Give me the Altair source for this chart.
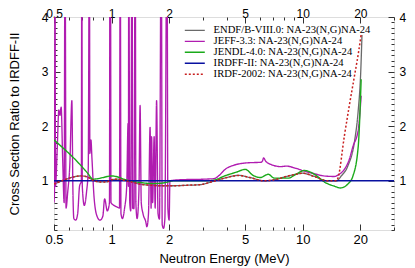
import altair as alt
import pandas as pd

# ---------------- data ----------------
series_names = [
    "ENDF/B-VIII.0: NA-23(N,G)NA-24",
    "JEFF-3.3: NA-23(N,G)NA-24",
    "JENDL-4.0: NA-23(N,G)NA-24",
    "IRDFF-II: NA-23(N,G)NA-24",
    "IRDF-2002: NA-23(N,G)NA-24",
]
series_colors = ["#6a6a6a", "#b01cb0", "#1aaa1a", "#0810a0", "#c81e1e"]
series_dash = [[1, 0], [1, 0], [1, 0], [1, 0], [2, 2]]
series_width = [1.3, 1.5, 1.4, 3.0, 1.5]

endf_x = [0.5, 0.55, 0.6, 0.65, 0.7, 0.75, 0.8, 0.87, 0.94, 1.0, 1.08, 1.16, 1.3, 1.41,
          1.6, 1.8, 2.1, 2.5, 2.9, 3.4, 4.0, 4.6, 5.3, 6.3, 7.3, 8.4, 9.2, 10.0, 11.5,
          13.5, 15.0, 15.9, 17.2, 18.7, 19.5, 20.1, 20.4]
endf_y = [0.94, 1.0, 1.05, 1.08, 1.09, 1.07, 1.01, 0.98, 0.98, 1.02, 1.03, 1.01, 0.97, 0.94,
          0.92, 0.91, 0.91, 0.92, 0.93, 0.99, 1.06, 1.10, 1.06, 1.0, 1.03, 1.09, 1.12, 1.14, 1.08,
          1.0, 1.0, 1.09, 1.27, 1.75, 2.29, 3.0, 3.67]

jeff_x = [0.5, 0.503, 0.506, 0.509, 0.52, 0.53, 0.537, 0.545, 0.555, 0.565, 0.571, 0.578,
          0.59, 0.605, 0.62, 0.628, 0.635, 0.65, 0.665, 0.68, 0.695, 0.699, 0.703, 0.72,
          0.74, 0.755, 0.766, 0.77, 0.78, 0.79, 0.81, 0.84, 0.87, 0.9, 0.92, 0.95, 0.975,
          0.981, 0.987, 0.993, 1.03, 1.07, 1.10, 1.11, 1.12, 1.14, 1.17, 1.2, 1.22, 1.225,
          1.23, 1.245, 1.26, 1.28, 1.29, 1.31, 1.33, 1.34, 1.36, 1.39, 1.41, 1.43, 1.46,
          1.51, 1.53, 1.56, 1.59, 1.61, 1.62, 1.64, 1.67, 1.69, 1.72, 1.75, 1.78, 1.82,
          1.84, 1.87, 1.9, 1.95, 1.97, 2.0, 2.02, 2.3, 3.0, 3.42, 4.04, 4.5, 5.14, 6.04,
          6.15, 6.24, 6.4, 6.82, 7.69, 8.2, 9.0, 10.16, 11.5, 12.9, 14.6, 15.5, 16.5,
          17.5, 18.3, 19.5, 20.2]
jeff_y = [0.6, 0.8, 6.0, 0.9, 1.6, 2.3, 2.2, 2.35, 1.4, 0.6, 6.0, 0.5,
          0.8, 1.3, 2.47, 0.8, 0.31, 0.28, 0.4, 0.9, 1.0, 6.0, 0.9, 0.55,
          0.8, 1.2, 6.0, 1.5, 1.75, 1.4, 0.7, 0.35, 0.28, 0.35, 0.67, 0.45, 0.6,
          6.0, 6.0, 0.6, 0.55, 0.52, 0.5, 6.0, 0.4, 0.31, 0.5, 0.9, 2.05, 0.9,
          6.0, 0.6, 0.45, 6.0, 0.5, 0.49, 6.0, 0.6, 0.31, 0.8, 2.38, 0.6, 0.4,
          0.25, 0.16, 0.4, 1.98, 0.5, 1.81, 0.6, 1.81, 0.5, 2.47, 0.4, 0.3, 6.0,
          0.2, 0.13, 0.3, 6.0, 0.5, 0.28, 1.0, 1.02, 1.03, 1.04, 1.24, 1.3, 1.33, 1.34,
          1.36, 1.42, 1.36, 1.30, 1.26, 1.27, 1.24, 1.18, 1.13, 1.09, 1.08, 1.12, 1.21,
          1.39, 1.63, 1.93, 2.56]

jendl_x = [0.5, 0.55, 0.6, 0.65, 0.7, 0.75, 0.8, 0.85, 0.9, 1.0, 1.08, 1.16, 1.3, 1.41,
           1.65, 1.85, 2.12, 2.5, 3.0, 3.4, 3.9, 4.5, 5.0, 5.5, 6.0, 6.6, 7.1, 8.4, 9.2,
           10.2, 11.5, 13.1, 14.7, 15.7, 16.5, 17.2, 18.3, 19.5, 20.2]
jendl_y = [1.75, 1.62, 1.50, 1.38, 1.26, 1.14, 1.03, 1.04, 1.06, 1.09, 1.07, 1.03, 0.99, 0.97,
           0.95, 0.96, 1.0, 1.0, 1.0, 1.01, 1.09, 1.16, 1.21, 1.10, 1.06, 1.12, 1.05, 1.05, 1.12,
           1.19, 1.12, 0.97, 0.90, 0.87, 0.89, 0.94, 1.09, 1.63, 2.86]

irdff_x = [0.5, 30.0]
irdff_y = [1.0, 1.0]

irdf_x = [0.5, 0.55, 0.6, 0.65, 0.7, 0.75, 0.8, 0.87, 0.94, 1.0, 1.08, 1.16, 1.3, 1.41,
          1.6, 1.8, 2.1, 2.5, 2.9, 3.4, 4.0, 4.6, 5.3, 6.3, 7.3, 8.4, 9.2, 10.0, 11.5,
          13.5, 15.0, 15.3, 16.5, 17.5, 18.7, 19.5, 20.2]
irdf_y = [0.94, 1.0, 1.05, 1.08, 1.09, 1.07, 1.01, 0.98, 0.98, 1.02, 1.03, 1.01, 0.97, 0.94,
          0.92, 0.91, 0.91, 0.92, 0.93, 0.99, 1.06, 1.10, 1.06, 1.0, 1.03, 1.09, 1.12, 1.14, 1.08,
          1.0, 1.0, 1.06, 1.82, 2.37, 2.95, 3.32, 3.68]

x_major = [0.5, 1, 2, 5, 10, 20]
x_minor = [0.6, 0.7, 0.8, 0.9, 3, 4, 6, 7, 8, 9, 30]
y_major = [1, 2, 3, 4]
y_minor = [round(v / 10, 1) for v in range(1, 41) if v % 10 != 0]

# ---------------- build table ----------------
rows = []
for name, xs, ys in zip(series_names,
                        [endf_x, jeff_x, jendl_x, irdff_x, irdf_x],
                        [endf_y, jeff_y, jendl_y, irdff_y, irdf_y]):
    for xv, yv in zip(xs, ys):
        rows.append({"series": name, "energy": xv, "ratio": yv})
df = pd.DataFrame(rows)
pt = pd.DataFrame({"energy": [1.0], "ratio": [1.0]})

W, H = 340, 213
SANS = "Liberation Sans"
xs = alt.Scale(type="log", domain=[0.5, 30], nice=False)
ys = alt.Scale(type="linear", domain=[0.1, 4], nice=False, zero=False)

legend = alt.Legend(
    title=None, orient="none", legendX=135.5, legendY=8,
    symbolType="M-4,0H4", symbolSize=25, labelOffset=13.5,
    labelFont="Liberation Serif", labelFontSize=10.6, labelColor="black",
    rowPadding=0, padding=0, fillColor="transparent", strokeColor="transparent",
)

main = alt.Chart(df).mark_line(clip=True, interpolate="monotone").encode(
    x=alt.X("energy:Q", scale=xs, axis=alt.Axis(
        orient="bottom", values=x_major, format="~g", ticks=False, tickSize=0,
        domain=False, grid=False, labelFont=SANS, labelFontSize=13, labelPadding=3,
        labelFlush=False, labelOverlap=False,
        labelColor="black", title="Neutron Energy (MeV)", titleFont=SANS,
        titleFontSize=13, titleFontWeight="normal", titleColor="black",
        titleX=W / 2, titleY=32.7, titleBaseline="alphabetic")),
    y=alt.Y("ratio:Q", scale=ys, axis=alt.Axis(
        orient="left", values=y_major, format="d", ticks=False, tickSize=0,
        domain=False, grid=False, labelFont=SANS, labelFontSize=12, labelPadding=6,
        labelFlush=False, labelOverlap=False,
        labelColor="black", title="Cross Section Ratio to IRDFF-II", titleFont=SANS,
        titleFontSize=13, titleFontWeight="normal", titleColor="black",
        titleX=-35.5, titleY=H / 2, titleAngle=270, titleAlign="center",
        titleBaseline="alphabetic")),
    color=alt.Color("series:N", scale=alt.Scale(domain=series_names, range=series_colors),
                    legend=legend),
    strokeDash=alt.StrokeDash("series:N", scale=alt.Scale(domain=series_names, range=series_dash),
                              legend=legend),
    strokeWidth=alt.StrokeWidth("series:N", scale=alt.Scale(domain=series_names, range=series_width),
                                legend=legend),
)

# top and right labels
labels2 = alt.Chart(pt).mark_point(opacity=0).encode(
    x=alt.X("energy:Q", scale=xs, axis=alt.Axis(
        orient="top", values=x_major, format="~g", ticks=False, tickSize=0, domain=False,
        grid=False, labelFont=SANS, labelFontSize=12, labelPadding=0,
        labelBaseline="alphabetic", labelFlush=False, labelOverlap=False,
        labelColor="black", title=None)),
    y=alt.Y("ratio:Q", scale=ys, axis=alt.Axis(
        orient="right", values=y_major, format="d", ticks=False, tickSize=0, domain=False,
        grid=False, labelFont=SANS, labelFontSize=12, labelPadding=5, labelColor="black",
        labelFlush=False, labelOverlap=False, title=None)),
)


def tick_layer(xvals, yvals, size, xo, yo):
    return alt.Chart(pt).mark_point(opacity=0).encode(
        x=alt.X("energy:Q", scale=xs, axis=alt.Axis(
            orient=xo, offset=-H, values=xvals, labels=False, domain=False, grid=False,
            ticks=True, tickSize=size, tickColor="#333333", tickWidth=1, title=None)),
        y=alt.Y("ratio:Q", scale=ys, axis=alt.Axis(
            orient=yo, offset=-W, values=yvals, labels=False, domain=False, grid=False,
            ticks=True, tickSize=size, tickColor="#333333", tickWidth=1, title=None)),
    )


t1 = tick_layer(x_major, y_major, 6, "top", "right")     # bottom & left, inward
t2 = tick_layer(x_minor, y_minor, 3, "top", "right")
t3 = tick_layer(x_major, y_major, 6, "bottom", "left")   # top & right, inward
t4 = tick_layer(x_minor, y_minor, 3, "bottom", "left")

chart = alt.layer(main, labels2, t1, t2, t3, t4).resolve_axis(
    x="independent", y="independent"
).properties(
    width=W, height=H, autosize="none",
    padding={"left": 46, "top": 9, "right": 13, "bottom": 38},
).configure_view(stroke="#444444", strokeWidth=1).configure(background="white")

chart.save("out.html", embed_options={"renderer": "svg", "actions": False})
